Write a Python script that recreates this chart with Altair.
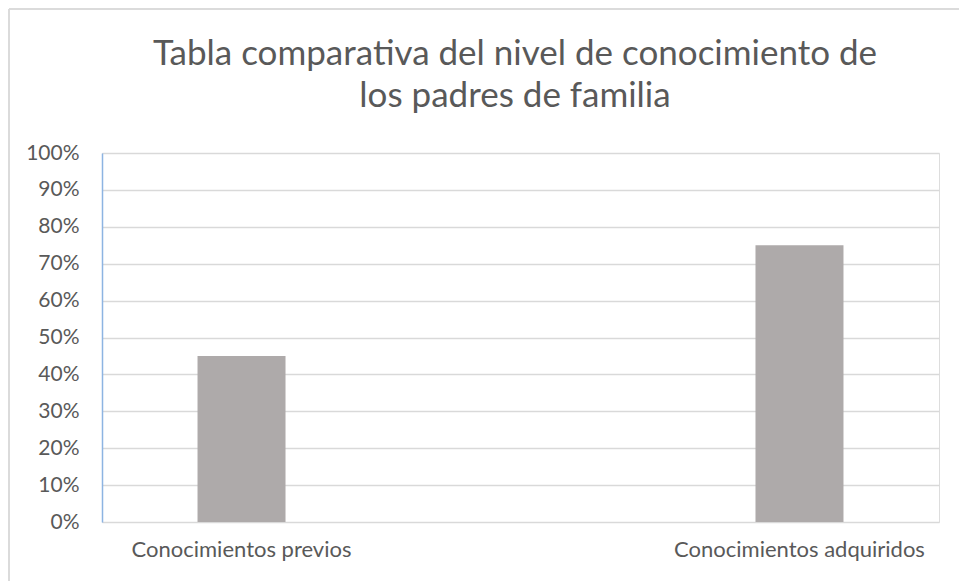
import altair as alt
import pandas as pd

categories = ["Conocimientos previos", "Conocimientos adquiridos"]
values = [0.45, 0.75]
y_ticks = [0, 0.1, 0.2, 0.3, 0.4, 0.5, 0.6, 0.7, 0.8, 0.9, 1.0]
title_lines = ["Tabla comparativa del nivel de conocimiento de", "los padres de familia"]

df = pd.DataFrame({"cat": categories, "val": values})
FONT = "Lato"
GREY = "#595959"

bars = alt.Chart(df).mark_bar(color="#AEAAAA").encode(
    x=alt.X("cat:N", sort=categories,
            scale=alt.Scale(paddingInner=0.8423, paddingOuter=0.1712),
            axis=alt.Axis(title=None, labelAngle=0, ticks=False, domain=False,
                          labelFont=FONT, labelFontSize=22, labelColor=GREY,
                          labelPadding=17, labelLimit=0)),
    y=alt.Y("val:Q", scale=alt.Scale(domain=[0, 1], nice=False),
            axis=alt.Axis(title=None, values=y_ticks, format=".0%",
                          labelFont=FONT, labelFontSize=21, labelColor=GREY,
                          labelPadding=23, ticks=False,
                          domainColor="#8DB4E2", domainWidth=1.5,
                          gridColor="#D9D9D9", gridWidth=1.5)),
)

border_top = alt.Chart(df).mark_rule(color="#D9D9D9", strokeWidth=1.5, clip=False).encode(
    x=alt.value(-93), x2=alt.value(900), y=alt.value(-144)
)
border_left = alt.Chart(df).mark_rule(color="#D9D9D9", strokeWidth=1.5, clip=False).encode(
    x=alt.value(-93), y=alt.value(-144), y2=alt.value(500)
)

title1 = alt.Chart(pd.DataFrame({"t": [title_lines[0]]})).mark_text(
    font=FONT, fontSize=35, color=GREY, align="center", baseline="alphabetic"
).encode(text="t:N", x=alt.value(413), y=alt.value(-88))
title2 = alt.Chart(pd.DataFrame({"t": [title_lines[1]]})).mark_text(
    font=FONT, fontSize=35, color=GREY, align="center", baseline="alphabetic"
).encode(text="t:N", x=alt.value(413), y=alt.value(-46))

chart = alt.layer(border_top, border_left, bars, title1, title2).properties(
    width=837, height=369,
    autosize=alt.AutoSizeParams(type="none"),
    padding={"left": 102, "top": 153, "right": 20, "bottom": 59},
).configure_view(stroke=None).configure(background="white")

chart.save("out.html", embed_options={"renderer": "svg", "actions": False})
